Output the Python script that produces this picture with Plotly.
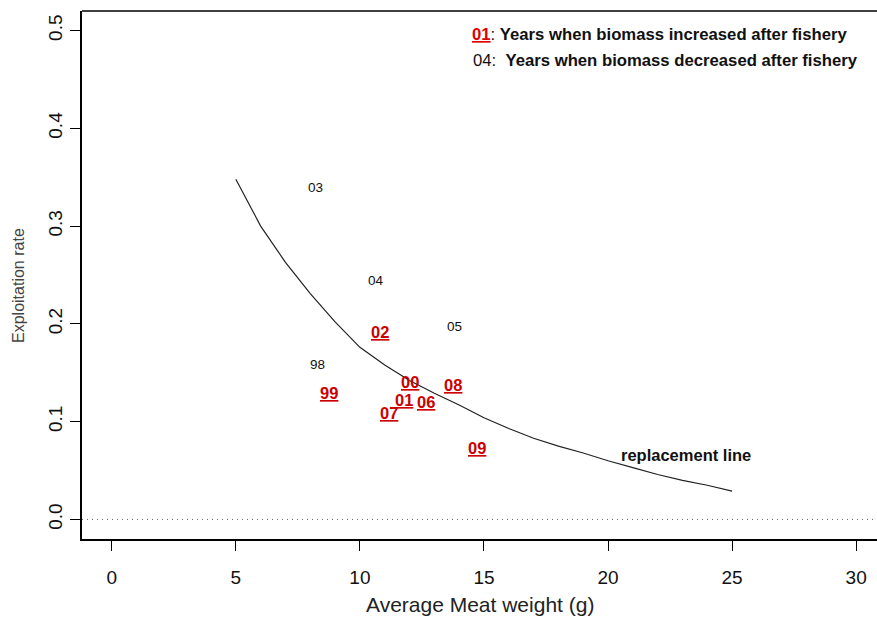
import plotly.graph_objects as go

# Replacement line (exploitation rate that keeps biomass constant)
curve_weight = [5, 6, 7, 8, 9, 10, 11, 12, 13, 14, 15, 16, 17, 18, 19, 20, 21, 22, 23, 24, 25]
curve_rate = [0.348, 0.300, 0.263, 0.231, 0.202, 0.176, 0.158, 0.142, 0.129, 0.117, 0.104,
              0.093, 0.083, 0.075, 0.068, 0.060, 0.053, 0.046, 0.040, 0.035, 0.029]

# Years where biomass increased after the fishery
up_years = ["02", "99", "00", "08", "01", "06", "07", "09"]
up_weight = [10.82, 8.77, 12.03, 13.74, 11.79, 12.66, 11.19, 14.72]
up_rate = [0.192, 0.129, 0.141, 0.138, 0.122, 0.120, 0.109, 0.0735]

# Years where biomass decreased after the fishery
down_years = ["03", "04", "05", "98"]
down_weight = [8.20, 10.64, 13.81, 8.29]
down_rate = [0.339, 0.244, 0.197, 0.158]

x_ticks = [0, 5, 10, 15, 20, 25, 30]
y_ticks = [0.0, 0.1, 0.2, 0.3, 0.4, 0.5]

FONT = "Liberation Sans"
RED = "#cc0000"

fig = go.Figure()

# zero reference line
fig.add_trace(go.Scatter(x=[-1.2, 31.2], y=[0, 0], mode="lines",
                         line=dict(color="#666666", width=1, dash="1px,4px"),
                         hoverinfo="skip", showlegend=False))

fig.add_trace(go.Scatter(x=curve_weight, y=curve_rate, mode="lines",
                         line=dict(color="#222222", width=1.2),
                         showlegend=False))

annotations = []
for yr, xv, yv in zip(up_years, up_weight, up_rate):
    annotations.append(dict(x=xv, y=yv, xref="x", yref="y", showarrow=False,
                            text=f"<b><u>{yr}</u></b>",
                            font=dict(family=FONT, size=16.5, color=RED)))
for yr, xv, yv in zip(down_years, down_weight, down_rate):
    annotations.append(dict(x=xv, y=yv, xref="x", yref="y", showarrow=False,
                            text=yr, font=dict(family=FONT, size=13.5, color="#111111")))

annotations += [
    dict(x=14.44, y=0.496, xref="x", yref="y", xanchor="left", showarrow=False,
         text=f"<span style='color:#e00000'><b><u>01</u></b></span>: "
              "<b>Years when biomass increased after fishery</b>",
         font=dict(family=FONT, size=16.7, color="#111111")),
    dict(x=14.48, y=0.469, xref="x", yref="y", xanchor="left", showarrow=False,
         text="04:  <b>Years when biomass decreased after fishery</b>",
         font=dict(family=FONT, size=16.7, color="#111111")),
    dict(x=23.15, y=0.0656, xref="x", yref="y", showarrow=False,
         text="<b>replacement line</b>",
         font=dict(family=FONT, size=16.5, color="#111111")),
    dict(x=0.5, y=-0.124, xref="paper", yref="paper", xanchor="center", yanchor="middle",
         showarrow=False, text="Average Meat weight (g)",
         font=dict(family=FONT, size=21, color="#222222")),
    dict(x=-0.08, y=0.48, xref="paper", yref="paper", xanchor="center", yanchor="middle",
         showarrow=False, text="Exploitation rate", textangle=-90,
         font=dict(family=FONT, size=16, color="#444444")),
]

# top frame line (right side runs off the canvas)
shapes = [dict(type="line", xref="paper", yref="paper", x0=0, x1=1, y0=1, y1=1,
               line=dict(color="black", width=1.5))]

fig.update_layout(
    width=877, height=618,
    margin=dict(l=82, r=0, t=11, b=79),
    paper_bgcolor="white", plot_bgcolor="white",
    annotations=annotations, shapes=shapes,
    xaxis=dict(range=[-1.2, 30.84], tickvals=x_ticks, ticktext=[str(v) for v in x_ticks],
               showgrid=False, zeroline=False, showline=True, linecolor="black", linewidth=2,
               ticks="outside", ticklen=10, tickwidth=1, tickcolor="black",
               ticklabelstandoff=10,
               tickfont=dict(family=FONT, size=19, color="#111111")),
    yaxis=dict(range=[-0.02, 0.52], tickvals=y_ticks, ticktext=[f"{v:.1f}" for v in y_ticks],
               showgrid=False, zeroline=False, showline=True, linecolor="black", linewidth=2,
               ticks="outside", ticklen=10, tickwidth=1, tickcolor="black", tickangle=-90,
               tickfont=dict(family=FONT, size=19, color="#111111")),
)

fig.write_html("out.html")
